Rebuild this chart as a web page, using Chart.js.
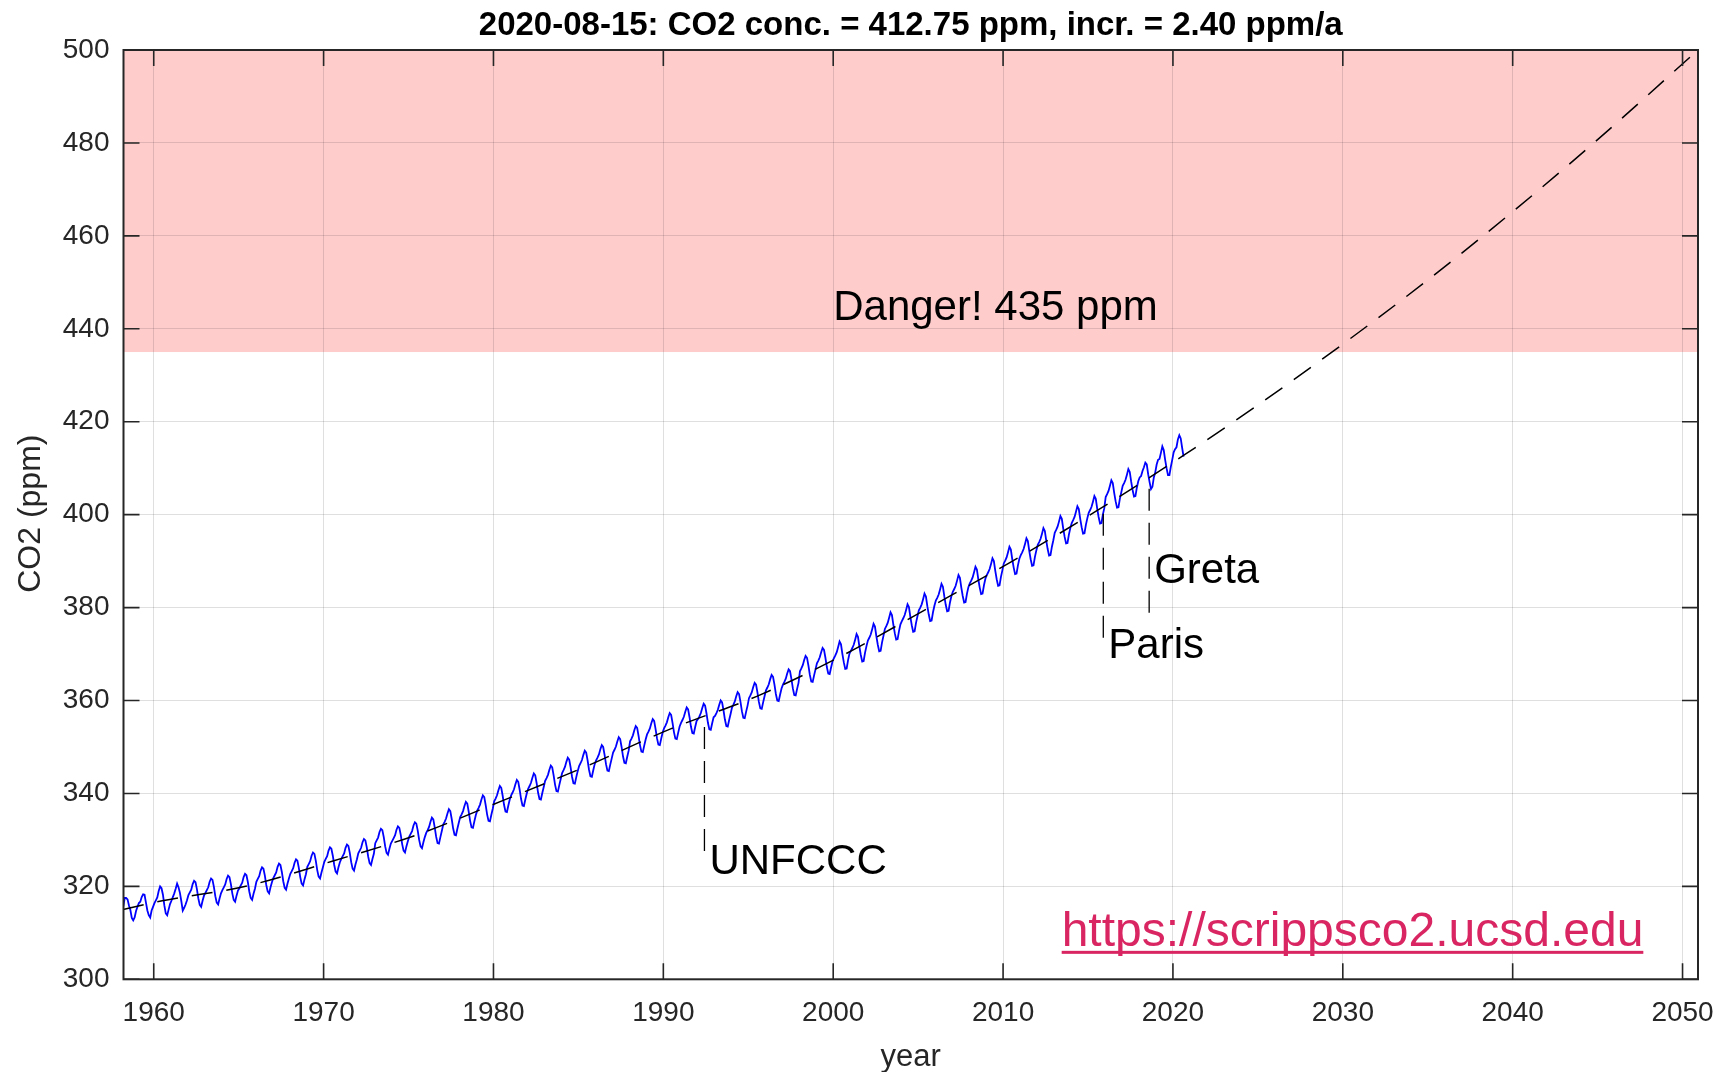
<!DOCTYPE html>
<html>
<head>
<meta charset="utf-8">
<script src="https://cdn.jsdelivr.net/npm/chart.js@4.4.1/dist/chart.umd.min.js"></script>
<style>
html,body{margin:0;padding:0;background:#ffffff;}
#wrap{width:1721px;height:1072px;position:relative;}
canvas{display:block;}
</style>
</head>
<body>
<div id="wrap"><canvas id="c" width="1721" height="1072"></canvas></div>
<script>
// ---------------- data ----------------
const titleText = '2020-08-15: CO2 conc. = 412.75 ppm, incr. = 2.40 ppm/a';
const xLabelText = 'year';
const yLabelText = 'CO2 (ppm)';
const xTickValues = [1960, 1970, 1980, 1990, 2000, 2010, 2020, 2030, 2040, 2050];
const yTickValues = [300, 320, 340, 360, 380, 400, 420, 440, 460, 480, 500];
const xRange = [1958.22, 2050.91];
const yRange = [300, 500];
const dangerLevel = 435;
const dangerText = 'Danger! 435 ppm';
const sourceText = 'https://scrippsco2.ucsd.edu';

// Monthly CO2 (ppm), one row per year, first row starts in March 1958
const firstYear = 1958;
const firstMonth = 3;
const monthlyCO2 = [
  [315.7,317.5,317.5,317.2,315.9,314.9,313.2,312.7,313.3,314.7],
  [315.6,316.4,316.7,317.7,318.3,318.2,316.5,314.8,313.8,313.3,314.8,315.6],
  [316.4,317.0,317.6,319.0,320.0,319.6,318.2,315.9,314.2,313.8,315.0,316.2],
  [316.9,317.7,318.5,319.5,320.6,319.8,318.6,316.8,314.8,315.4,316.1,317.0],
  [318.1,318.7,319.3,320.5,321.2,320.9,319.4,317.4,316.0,315.6,316.9,318.0],
  [318.6,319.2,319.8,321.0,321.7,321.4,319.9,317.9,316.5,316.1,317.4,318.5],
  [319.2,319.8,320.4,321.6,322.3,322.0,320.5,318.5,317.1,316.7,318.0,319.1],
  [319.6,320.2,320.8,322.0,322.7,322.4,320.9,318.9,317.5,317.1,318.4,319.5],
  [321.0,321.6,322.2,323.4,324.1,323.8,322.3,320.3,318.9,318.5,319.8,320.9],
  [321.8,322.4,323.0,324.2,324.9,324.6,323.1,321.1,319.7,319.3,320.6,321.7],
  [322.7,323.3,323.9,325.1,325.8,325.5,324.0,322.0,320.6,320.2,321.5,322.6],
  [324.2,324.8,325.4,326.6,327.3,327.0,325.5,323.5,322.1,321.7,323.0,324.1],
  [325.3,325.9,326.5,327.7,328.4,328.1,326.6,324.6,323.2,322.8,324.1,325.2],
  [325.9,326.5,327.1,328.3,329.0,328.7,327.2,325.2,323.8,323.4,324.7,325.8],
  [327.1,327.7,328.3,329.5,330.2,329.9,328.4,326.4,325.0,324.6,325.9,327.0],
  [329.3,329.9,330.5,331.7,332.4,332.1,330.6,328.6,327.2,326.8,328.1,329.2],
  [329.8,330.4,331.0,332.2,332.9,332.6,331.1,329.1,327.7,327.3,328.6,329.7],
  [330.7,331.3,331.9,333.1,333.8,333.5,332.0,330.0,328.6,328.2,329.5,330.6],
  [331.5,332.1,332.8,333.9,334.8,334.4,332.7,330.7,329.3,329.2,330.6,331.9],
  [333.3,333.9,334.6,335.7,336.6,336.2,334.5,332.5,331.1,331.0,332.4,333.7],
  [334.9,335.5,336.2,337.3,338.2,337.8,336.1,334.1,332.7,332.6,334.0,335.3],
  [336.3,336.9,337.6,338.7,339.6,339.2,337.5,335.5,334.1,334.0,335.4,336.7],
  [338.3,338.9,339.6,340.7,341.6,341.2,339.5,337.5,336.1,336.0,337.4,338.7],
  [339.6,340.2,340.9,342.0,342.9,342.5,340.8,338.8,337.4,337.3,338.7,340.0],
  [341.0,341.6,342.3,343.4,344.3,343.9,342.2,340.2,338.8,338.7,340.1,341.4],
  [342.7,343.3,344.0,345.1,346.0,345.6,343.9,341.9,340.5,340.4,341.8,343.1],
  [344.4,345.0,345.7,346.8,347.7,347.3,345.6,343.6,342.2,342.1,343.5,344.8],
  [345.9,346.5,347.2,348.3,349.2,348.8,347.1,345.1,343.7,343.6,345.0,346.3],
  [347.1,347.7,348.4,349.5,350.4,350.0,348.3,346.3,344.9,344.8,346.2,347.5],
  [348.8,349.4,350.1,351.2,352.1,351.7,350.0,348.0,346.6,346.5,347.9,349.2],
  [351.2,351.8,352.5,353.6,354.5,354.1,352.4,350.4,349.0,348.9,350.3,351.6],
  [352.7,353.3,354.0,355.1,356.0,355.6,353.9,351.9,350.5,350.4,351.8,353.1],
  [354.0,354.6,355.3,356.4,357.3,356.9,355.2,353.2,351.8,351.7,353.1,354.4],
  [355.2,355.8,356.5,357.6,358.5,358.1,356.4,354.4,353.0,352.9,354.3,355.6],
  [356.0,356.6,357.3,358.4,359.3,358.9,357.2,355.2,353.8,353.7,355.1,356.4],
  [356.7,357.3,358.0,359.1,360.0,359.6,357.9,355.9,354.5,354.4,355.8,357.1],
  [358.5,359.1,359.8,360.9,361.8,361.4,359.7,357.7,356.3,356.2,357.6,358.9],
  [360.5,361.1,361.8,362.9,363.8,363.4,361.7,359.7,358.3,358.2,359.6,360.9],
  [362.2,362.8,363.5,364.6,365.5,365.1,363.4,361.4,360.0,359.9,361.3,362.6],
  [363.4,364.0,364.7,365.8,366.7,366.3,364.6,362.6,361.2,361.1,362.5,363.8],
  [366.3,366.9,367.6,368.7,369.6,369.2,367.5,365.5,364.1,364.0,365.4,366.7],
  [368.0,368.6,369.3,370.4,371.3,370.9,369.2,367.2,365.8,365.7,367.1,368.4],
  [369.1,369.7,370.4,371.5,372.7,372.1,370.0,368.2,366.8,366.9,368.7,370.1],
  [370.7,371.3,372.0,373.1,374.3,373.7,371.6,369.8,368.4,368.5,370.3,371.7],
  [372.9,373.5,374.2,375.3,376.5,375.9,373.8,372.0,370.6,370.7,372.5,373.9],
  [375.4,376.0,376.7,377.8,379.0,378.4,376.3,374.5,373.1,373.2,375.0,376.4],
  [377.1,377.7,378.4,379.5,380.7,380.1,378.0,376.2,374.8,374.9,376.7,378.1],
  [379.4,380.0,380.7,381.8,383.0,382.4,380.3,378.5,377.1,377.2,379.0,380.4],
  [381.5,382.1,382.8,383.9,385.1,384.5,382.4,380.6,379.2,379.3,381.1,382.5],
  [383.4,384.0,384.7,385.8,387.0,386.4,384.3,382.5,381.1,381.2,383.0,384.4],
  [385.2,385.8,386.5,387.6,388.8,388.2,386.1,384.3,382.9,383.0,384.8,386.2],
  [387.0,387.6,388.3,389.4,390.6,390.0,387.9,386.1,384.7,384.8,386.6,388.0],
  [389.5,390.1,390.8,391.9,393.1,392.5,390.4,388.6,387.2,387.3,389.1,390.5],
  [391.3,391.9,392.6,393.7,394.9,394.3,392.2,390.4,389.0,389.1,390.9,392.3],
  [393.5,394.1,394.8,395.9,397.1,396.5,394.4,392.6,391.2,391.3,393.1,394.5],
  [396.1,396.7,397.4,398.5,399.7,399.1,397.0,395.2,393.8,393.9,395.7,397.1],
  [398.2,398.8,399.5,400.6,401.8,401.2,399.1,397.3,395.9,396.0,397.8,399.2],
  [400.4,401.0,401.7,402.8,404.0,403.4,401.3,399.5,398.1,398.2,400.0,401.4],
  [403.8,404.4,405.1,406.2,407.4,406.8,404.7,402.9,401.5,401.6,403.4,404.8],
  [406.2,406.8,407.5,408.6,409.8,409.2,407.1,405.3,403.9,404.0,405.8,407.2],
  [408.0,408.3,409.4,410.2,411.2,410.8,408.7,407.0,405.5,406.0,408.0,409.1],
  [410.8,411.8,412.0,413.3,414.7,413.9,411.8,410.0,408.5,408.5,410.3,411.8],
  [413.4,414.1,414.5,416.2,417.1,416.4,414.4,412.5]
];

// Fitted trend and its extrapolation (dashed black)
const trendYears  = [1958.2, 1960.5, 1965.5, 1970.5, 1975.5, 1980.5, 1985.5, 1990.5, 1995.5, 2000.5, 2005.5, 2010.5, 2015.5, 2020.62, 2025, 2030, 2035, 2040, 2045, 2050.91];
const trendValues = [315.0, 316.9, 320.1, 325.4, 331.1, 338.4, 345.9, 354.0, 360.9, 369.6, 379.7, 389.9, 400.8, 412.75, 423.6, 436.7, 450.5, 465.2, 480.7, 500.0];

// Event markers
const eventNames  = ['UNFCCC', 'Paris', 'Greta'];
const eventYears  = [1992.42, 2015.9, 2018.6];
const eventTop    = [354.3, 400.2, 405.6];
const eventBottom = [326.0, 371.9, 378.7];
const eventLabelY = [322.7, 369.2, 385.3];

// ---------------- build chart ----------------
const FONT = "'Liberation Sans', Arial, Helvetica, sans-serif";
const AXCOL = '#262626';

const obsPoints = [];
monthlyCO2.forEach((row, i) => {
  const yr = firstYear + i;
  const m0 = i === 0 ? firstMonth : 1;
  row.forEach((v, j) => obsPoints.push({ x: yr + (m0 + j - 0.5) / 12, y: v }));
});
const trendPoints = trendYears.map((t, i) => ({ x: t, y: trendValues[i] }));

const datasets = [
  { label: 'trend', data: trendPoints, borderColor: '#000000', borderWidth: 1.5,
    borderDash: [21, 14], pointRadius: 0, cubicInterpolationMode: 'monotone', order: 1 },
  { label: 'co2', data: obsPoints, borderColor: '#0000ff', borderWidth: 1.8,
    pointRadius: 0, tension: 0, order: 2 }
];
eventNames.forEach((n, i) => {
  datasets.push({ label: n, data: [{ x: eventYears[i], y: eventTop[i] }, { x: eventYears[i], y: eventBottom[i] }],
    borderColor: '#000000', borderWidth: 1.3, borderDash: [22, 12], pointRadius: 0, order: 0 });
});

const decor = {
  id: 'decor',
  beforeDraw(chart) {
    const c = chart.ctx, a = chart.chartArea, ys = chart.scales.y;
    c.save();
    c.fillStyle = '#ffffff';
    c.fillRect(0, 0, chart.width, chart.height);
    const yTop = ys.getPixelForValue(yRange[1]);
    const yD = ys.getPixelForValue(dangerLevel);
    c.fillStyle = '#ffcccc';
    c.fillRect(a.left, yTop, a.right - a.left, yD - yTop);
    c.restore();
  },
  afterDatasetsDraw(chart) {
    const c = chart.ctx, xs = chart.scales.x, ys = chart.scales.y;
    c.save();
    // danger text
    c.fillStyle = '#000000';
    c.font = '42px ' + FONT;
    c.textAlign = 'left';
    c.textBaseline = 'alphabetic';
    c.fillText(dangerText, xs.getPixelForValue(2000), ys.getPixelForValue(441.9));
    // event labels
    eventNames.forEach((n, i) => {
      c.fillText(n, xs.getPixelForValue(eventYears[i]) + 5, ys.getPixelForValue(eventLabelY[i]));
    });
    // source URL
    c.font = '48px ' + FONT;
    c.fillStyle = 'rgb(217,38,98)';
    const ux = xs.getPixelForValue(2013.45), uy = ys.getPixelForValue(307.2);
    c.fillText(sourceText, ux, uy);
    const w = c.measureText(sourceText).width;
    c.fillRect(ux, uy + 5, w, 3);
    c.restore();
  },
  afterDraw(chart) {
    const c = chart.ctx, a = chart.chartArea, xs = chart.scales.x, ys = chart.scales.y;
    c.save();
    c.strokeStyle = AXCOL;
    c.lineWidth = 2;
    c.strokeRect(a.left, a.top, a.right - a.left, a.bottom - a.top);
    const tl = 16;
    c.lineWidth = 1.6;
    c.beginPath();
    xTickValues.forEach(v => {
      const px = xs.getPixelForValue(v);
      c.moveTo(px, a.bottom); c.lineTo(px, a.bottom - tl);
      c.moveTo(px, a.top); c.lineTo(px, a.top + tl);
    });
    yTickValues.forEach(v => {
      const py = ys.getPixelForValue(v);
      c.moveTo(a.left, py); c.lineTo(a.left + tl, py);
      c.moveTo(a.right, py); c.lineTo(a.right - tl, py);
    });
    c.stroke();
    // title
    c.fillStyle = '#000000';
    c.font = 'bold 33px ' + FONT;
    c.textAlign = 'center';
    c.textBaseline = 'alphabetic';
    c.fillText(titleText, (a.left + a.right) / 2, 35);
    // axis labels
    c.fillStyle = AXCOL;
    c.font = '31px ' + FONT;
    c.fillText(xLabelText, (a.left + a.right) / 2, 1066);
    c.font = '32px ' + FONT;
    c.translate(40, (a.top + a.bottom) / 2 - 1);
    c.rotate(-Math.PI / 2);
    c.fillText(yLabelText, 0, 0);
    c.restore();
  }
};

new Chart(document.getElementById('c'), {
  type: 'line',
  data: { datasets },
  options: {
    responsive: false,
    animation: false,
    devicePixelRatio: 1,
    layout: { padding: { top: 50, right: 23, left: 0, bottom: 0 } },
    plugins: { legend: { display: false }, tooltip: { enabled: false }, title: { display: false } },
    scales: {
      x: {
        type: 'linear', min: xRange[0], max: xRange[1],
        afterBuildTicks: s => { s.ticks = xTickValues.map(v => ({ value: v })); },
        afterFit: s => { s.height = 92.7; s.paddingLeft = 0; s.paddingRight = 0; },
        ticks: { color: AXCOL, font: { family: FONT, size: 28 }, padding: 17, maxRotation: 0, autoSkip: false,
                 callback: v => String(v) },
        grid: { color: 'rgba(38,38,38,0.15)', lineWidth: 1, drawTicks: false },
        border: { display: false }
      },
      y: {
        type: 'linear', min: yRange[0], max: yRange[1],
        afterBuildTicks: s => { s.ticks = yTickValues.map(v => ({ value: v })); },
        afterFit: s => { s.width = 123.5; s.paddingTop = 0; s.paddingBottom = 0; },
        ticks: { color: AXCOL, font: { family: FONT, size: 28 }, padding: 14, autoSkip: false,
                 callback: v => String(v) },
        grid: { color: 'rgba(38,38,38,0.15)', lineWidth: 1, drawTicks: false },
        border: { display: false }
      }
    }
  },
  plugins: [decor]
});
</script>
</body>
</html>
